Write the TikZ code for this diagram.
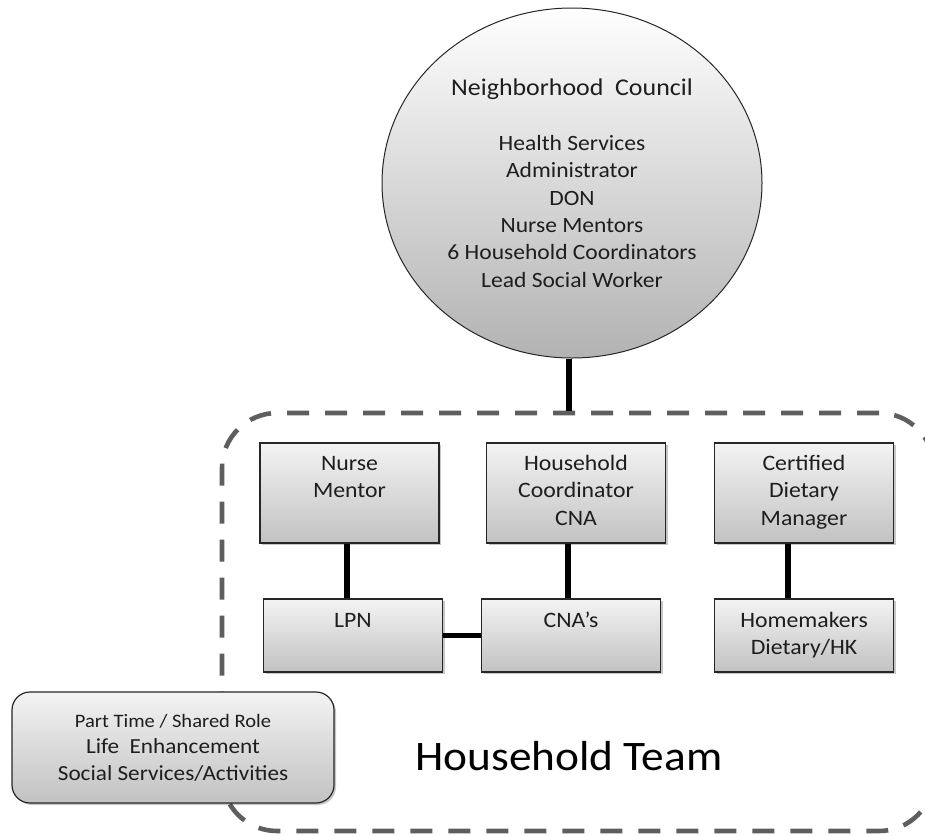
\documentclass[tikz,border=0pt]{standalone}
\usepackage{fontspec}
\setmainfont{Carlito}[FakeStretch=1.08]
\usetikzlibrary{shapes.geometric,shadows,calc}

\definecolor{framegray}{HTML}{5E5E5E}
\definecolor{boxtop}{HTML}{F3F3F3}
\definecolor{boxbot}{HTML}{C2C2C2}
\definecolor{edgegray}{HTML}{262626}
\definecolor{inkgray}{HTML}{1E1E1E}

\begin{document}
\begin{tikzpicture}[
  x=1pt, y=-1pt,
  teamframe/.style={draw=framegray, line width=4.6pt, dash pattern=on 22pt off 16pt,
    rounded corners=55pt, minimum width=712pt, minimum height=418pt, inner sep=0pt},
  link/.style={draw=black, line width=5.5pt},
  rolebox/.style={draw=edgegray, line width=1.2pt, top color=boxtop, bottom color=boxbot,
    minimum width=179pt, inner sep=0pt,
    drop shadow={shadow xshift=2pt, shadow yshift=-2pt, opacity=.22, fill=black}},
  tallbox/.style={rolebox, minimum height=100pt},
  shortbox/.style={rolebox, minimum height=73pt},
  boxtext/.style={font=\fontsize{22}{27.5}\selectfont, text=inkgray, align=center,
    inner sep=0pt, anchor=north},
  council/.style={ellipse, draw=edgegray, line width=1pt, top color=white, bottom color=boxbot!92!black,
    minimum width=380pt, minimum height=350pt, inner sep=0pt, align=center, text=inkgray,
    font=\fontsize{21.8}{27.4}\selectfont},
  notebox/.style={draw=edgegray, line width=1.2pt, rounded corners=18pt, top color=boxtop, bottom color=boxbot,
    minimum width=322pt, minimum height=111pt, inner sep=0pt, align=center, text=inkgray,
    font=\fontsize{21.5}{26.5}\selectfont,
    drop shadow={shadow xshift=2pt, shadow yshift=-2pt, opacity=.22, fill=black}},
]
\useasboundingbox (0,0) rectangle (925,835);

% dashed household frame (its right side runs just past the page edge)
\node[teamframe] (team) at (578,622) {};

% neighborhood council
\node[council] (council) at (572,183)
  {{\fontsize{24}{27.4}\selectfont Neighborhood\ \ Council}\\[27.6pt]
   Health Services\\ Administrator\\ DON\\ Nurse Mentors\\
   6 Household Coordinators\\ Lead Social Worker};
\draw[link] ([xshift=-3pt]council.south) -- ([xshift=-3pt]council.south |- team.north);

% household roles
\node[tallbox] (nm)  at (349.5,493) {};
\node[tallbox] (hc)  at (576,493)   {};
\node[tallbox] (cdm) at (804,493)   {};
\node[shortbox] (lpn)  at (353,635.5) {};
\node[shortbox] (cnas) at (571,635.5) {};
\node[shortbox] (hm)   at (804,635.5) {};

% reporting lines
\draw[link] ([xshift=-2.5pt]nm.south) -- ([xshift=-2.5pt]nm.south |- lpn.north);
\draw[link] ([xshift=-3pt]cnas.north) -- ([xshift=-3pt]cnas.north |- hc.south);
\draw[link] ([xshift=-16pt]cdm.south) -- ([xshift=-16pt]cdm.south |- hm.north);
\draw[link] (lpn.east) -- (cnas.west);

\node[boxtext] (nm-t)   at ([yshift=-8.6pt]nm.north)   {\strut Nurse\\Mentor};
\node[boxtext] (hc-t)   at ([yshift=-8.6pt]hc.north)   {\strut Household\\Coordinator\\CNA};
\node[boxtext] (cdm-t)  at ([yshift=-8.6pt]cdm.north)  {\strut Certified\\Dietary\\Manager};
\node[boxtext] (lpn-t)  at ([yshift=-9.6pt]lpn.north)  {\strut LPN};
\node[boxtext] (cnas-t) at ([yshift=-9.6pt]cnas.north) {\strut CNA’s};
\node[boxtext] (hm-t)   at ([yshift=-9.6pt]hm.north)   {\strut Homemakers\\Dietary/HK};

% shared role and frame caption
\node[notebox] (pt) at (173,747.5)
  {{\fontsize{19}{26.5}\selectfont Part Time / Shared Role}\\
   Life\ \ Enhancement\\ Social Services/Activities};
\node[font=\fontsize{42}{50}\selectfont, text=black, anchor=base, inner sep=0pt] (teamlabel)
  at (569,770) {Household Team};
\end{tikzpicture}
\end{document}
